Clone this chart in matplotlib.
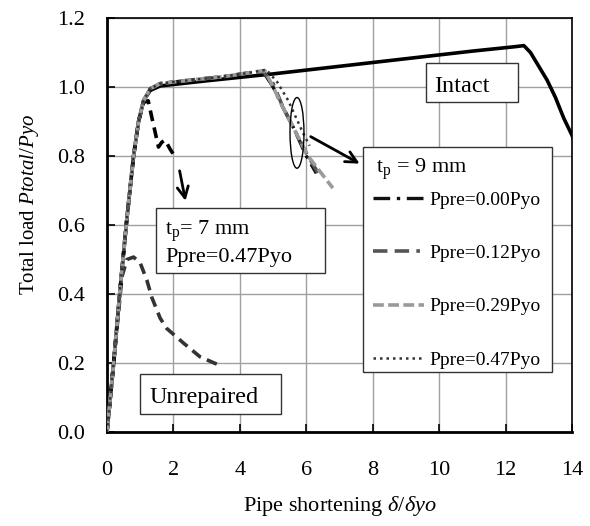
import matplotlib
matplotlib.use("Agg")
import matplotlib.pyplot as plt
from matplotlib.patches import Rectangle, Ellipse

plt.rcParams['font.family'] = ['Liberation Serif', 'DejaVu Serif']
plt.rcParams['mathtext.fontset'] = 'custom'
plt.rcParams['mathtext.rm'] = 'Liberation Serif'
plt.rcParams['mathtext.it'] = 'Liberation Serif:italic'
plt.rcParams['mathtext.bf'] = 'Liberation Serif:bold'

# ---------------- data ----------------
intact_x = [0, 0.2, 0.4, 0.6, 0.8, 0.95, 1.1, 1.3, 1.6, 3.0, 5.0, 7.0, 9.0, 11.0, 12.3, 12.55, 12.75, 13.0, 13.25, 13.5, 13.75, 14.0, 14.3]
intact_y = [0, 0.2, 0.42, 0.62, 0.80, 0.90, 0.96, 0.99, 1.003, 1.018, 1.038, 1.06, 1.082, 1.104, 1.117, 1.12, 1.10, 1.06, 1.02, 0.97, 0.91, 0.86, 0.79]

unrep_x = [0, 0.2, 0.45, 0.6, 0.8, 1.0, 1.2, 1.35, 1.6, 1.8, 2.3, 2.8, 3.37]
unrep_y = [0, 0.2, 0.45, 0.50, 0.507, 0.49, 0.44, 0.39, 0.33, 0.30, 0.258, 0.218, 0.194]

tp7_x = [0, 0.2, 0.4, 0.6, 0.8, 0.95, 1.1, 1.24, 1.4, 1.55, 1.65, 1.75, 1.9, 2.05]
tp7_y = [0, 0.2, 0.42, 0.62, 0.80, 0.90, 0.955, 0.96, 0.89, 0.826, 0.84, 0.846, 0.82, 0.797]

tp9_labels = ['Ppre=0.00Pyo', 'Ppre=0.12Pyo', 'Ppre=0.29Pyo', 'Ppre=0.47Pyo']
tp9_x = [
    [0, 0.2, 0.4, 0.6, 0.8, 0.95, 1.1, 1.3, 1.6, 2.5, 3.5, 4.2, 4.7, 5.0, 5.3, 5.6, 6.0, 6.3],
    [0, 0.2, 0.4, 0.6, 0.8, 0.95, 1.1, 1.3, 1.6, 2.5, 3.5, 4.2, 4.7, 5.0, 5.27, 5.6, 6.0, 6.45],
    [0, 0.2, 0.4, 0.6, 0.8, 0.95, 1.1, 1.3, 1.6, 2.5, 3.5, 4.2, 4.75, 5.0, 5.3, 5.65, 6.05, 6.8],
    [0, 0.2, 0.4, 0.6, 0.8, 0.95, 1.1, 1.3, 1.6, 2.5, 3.5, 4.2, 4.8, 5.12, 5.45, 5.75, 5.9, 6.1],
]
tp9_y = [
    [0, 0.2, 0.42, 0.62, 0.80, 0.90, 0.96, 0.995, 1.01, 1.02, 1.03, 1.04, 1.045, 1.0, 0.94, 0.885, 0.80, 0.75],
    [0, 0.2, 0.42, 0.62, 0.80, 0.90, 0.96, 0.995, 1.01, 1.02, 1.03, 1.04, 1.045, 1.01, 0.948, 0.884, 0.809, 0.735],
    [0, 0.2, 0.42, 0.62, 0.80, 0.90, 0.96, 0.995, 1.01, 1.02, 1.03, 1.04, 1.048, 1.0, 0.94, 0.875, 0.80, 0.707],
    [0, 0.2, 0.42, 0.62, 0.80, 0.90, 0.96, 0.995, 1.01, 1.02, 1.03, 1.04, 1.05, 1.015, 0.962, 0.899, 0.867, 0.83],
]
tp9_colors = ['#111111', '#555555', '#9a9a9a', '#333333']
tp9_styles = [(0, (5, 2, 1, 2)), (0, (4, 2, 4, 2, 1, 2)), (0, (3, 1.2)), (0, (1, 1.6))]
tp9_widths = [2.4, 2.6, 2.6, 1.8]

x_ticks = [0, 2, 4, 6, 8, 10, 12, 14]
y_ticks = [0.0, 0.2, 0.4, 0.6, 0.8, 1.0, 1.2]
y_ticklabels = ['0.0', '0.2', '0.4', '0.6', '0.8', '1.0', '1.2']

# ---------------- figure ----------------
fig = plt.figure(figsize=(5.9, 5.26), dpi=100)
ax = fig.add_axes([107/590, 1 - 432/526, 465/590, 414/526])

ax.set_xlim(0, 14)
ax.set_ylim(0, 1.2)
ax.set_xticks(x_ticks)
ax.set_yticks(y_ticks)
ax.set_yticklabels(y_ticklabels)
ax.grid(True, color='#a0a0a0', linewidth=1.0)
ax.set_axisbelow(True)
ax.tick_params(axis='both', direction='in', length=6, width=1.2, labelsize=16, color='black')
ax.tick_params(axis='x', pad=21)
ax.tick_params(axis='y', pad=15.5)
for s in ['left', 'bottom']:
    ax.spines[s].set_linewidth(2.0)
for s in ['top', 'right']:
    ax.spines[s].set_linewidth(1.2)

# curves
ax.plot(intact_x, intact_y, color='black', lw=2.6, solid_capstyle='round', zorder=3)
ax.plot(unrep_x, unrep_y, color='#333333', lw=2.6, linestyle=(0, (3, 1.8)), zorder=3)
ax.plot(tp7_x, tp7_y, color='black', lw=2.6, linestyle=(0, (3, 1.8)), zorder=4)
handles = []
for xs, ys, c, ls, w, lab in zip(tp9_x, tp9_y, tp9_colors, tp9_styles, tp9_widths, tp9_labels):
    h, = ax.plot(xs, ys, color=c, lw=w, linestyle=ls, label=lab, zorder=4)
    handles.append(h)

# ellipse + arrows
ax.add_patch(Ellipse((5.72, 0.867), 0.42, 0.205, fill=False, edgecolor='black', lw=1.0, zorder=5))
ax.annotate('', xy=(7.68, 0.774), xytext=(6.06, 0.86),
            arrowprops=dict(arrowstyle='->', color='black', lw=2.0, mutation_scale=20), zorder=5)
ax.annotate('', xy=(2.38, 0.662), xytext=(2.17, 0.765),
            arrowprops=dict(arrowstyle='->', color='black', lw=2.0, mutation_scale=20), zorder=5)

# text boxes
ax.add_patch(Rectangle((9.6, 0.957), 2.78, 0.113, facecolor='white', edgecolor='#333333', lw=1.0, zorder=6))
ax.text(10.69, 0.986, 'Intact', ha='center', va='baseline', fontsize=17.5, zorder=7)

ax.add_patch(Rectangle((1.0, 0.052), 4.24, 0.116, facecolor='white', edgecolor='#333333', lw=1.0, zorder=6))
ax.text(1.27, 0.084, 'Unrepaired', ha='left', va='baseline', fontsize=17.5, zorder=7)

ax.add_patch(Rectangle((1.48, 0.461), 5.09, 0.188, facecolor='white', edgecolor='#333333', lw=1.0, zorder=6))
ax.text(1.75, 0.571, r't$_{\mathrm{p}}$= 7 mm', ha='left', va='baseline', fontsize=16, zorder=7)
ax.text(1.75, 0.492, 'Ppre=0.47Pyo', ha='left', va='baseline', fontsize=16, zorder=7)

# legend for tp = 9 mm: frame, title and entries
ax.add_patch(Rectangle((0.551, 0.145), 0.406, 0.543, transform=ax.transAxes,
                       facecolor='white', edgecolor='#333333', lw=1.0, zorder=7))
ax.text(0.579, 0.626, r't$_{\mathrm{p}}$ = 9 mm', transform=ax.transAxes,
        ha='left', va='baseline', fontsize=16, zorder=9)
leg = ax.legend(handles=handles, labels=tp9_labels,
                loc='upper left', bbox_to_anchor=(0.572, 0.581), borderaxespad=0,
                fontsize=14, frameon=False, handlelength=2.6, handletextpad=0.3,
                labelspacing=1.83, borderpad=0.0)
leg.set_zorder(9)

ax.set_xlabel(r'Pipe shortening $\mathit{\delta/\delta yo}$', fontsize=16, labelpad=10)
ax.set_ylabel(r'Total load $\mathit{Ptotal/Pyo}$', fontsize=15, labelpad=12, y=0.55)

fig.savefig('out.png', dpi=100)
